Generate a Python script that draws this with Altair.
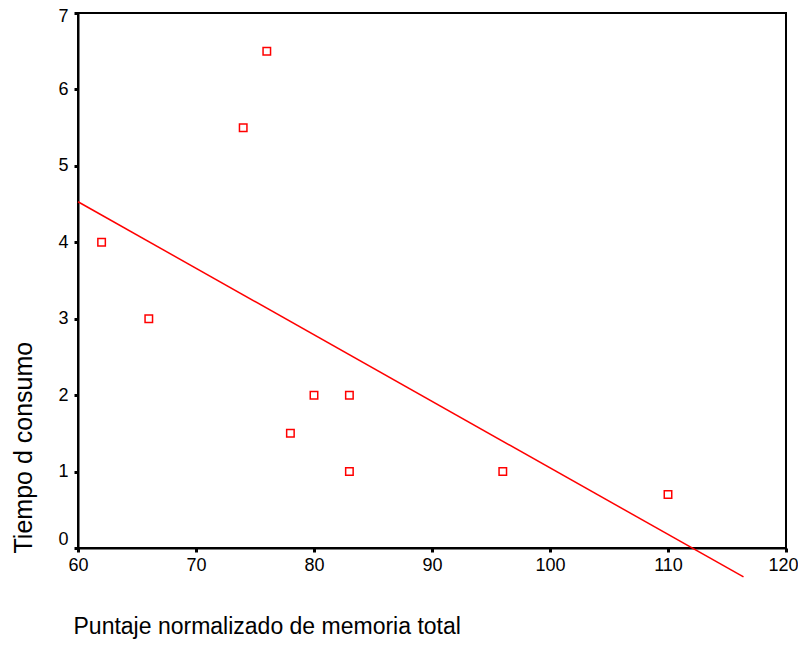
import altair as alt
import pandas as pd

memoria = [62, 66, 74, 76, 78, 80, 83, 83, 96, 110]
tiempo = [4, 3, 5.5, 6.5, 1.5, 2, 2, 1, 1, 0.7]
x_ticks = [60, 70, 80, 90, 100, 110, 120]
y_ticks = [0, 1, 2, 3, 4, 5, 6, 7]
line_extent = [60, 116.4]

df = pd.DataFrame({"x": memoria, "y": tiempo})
FONT = "Liberation Sans"

x_enc = alt.X("x:Q", scale=alt.Scale(domain=[60, 120], nice=False, zero=False),
              axis=alt.Axis(values=x_ticks, format="d", title="Puntaje normalizado de memoria total",
                            grid=False, domainColor="black", domainWidth=2,
                            tickColor="black", tickSize=4, tickWidth=3,
                            labelFont=FONT, labelFontSize=18, labelColor="black",
                            labelPadding=4, labelFlush=False, labelOverlap=False,
                            labelOffset=alt.expr("datum.value == 120 ? -3 : 0"),
                            titleFont=FONT, titleFontSize=23, titleFontWeight="normal",
                            titleColor="black", titleAnchor="start", titleAlign="left",
                            titleX=-5, titleY=67, titleBaseline="top"))
y_enc = alt.Y("y:Q", scale=alt.Scale(domain=[0, 7], nice=False),
              axis=alt.Axis(values=y_ticks, format="d", title="Tiempo d consumo",
                            grid=False, domainColor="black", domainWidth=2,
                            tickColor="black", tickSize=4, tickWidth=3,
                            labelFont=FONT, labelFontSize=18, labelColor="black",
                            labelPadding=6, labelFlush=False, labelOverlap=False,
                            labelBaseline=alt.expr("datum.value == 0 ? 'bottom' : 'middle'"),
                            labelOffset=alt.expr("datum.value == 7 ? 3 : 0"),
                            titleFont=FONT, titleFontSize=25, titleFontWeight="normal",
                            titleColor="black", titleAnchor="start", titleAlign="left",
                            titleX=-47, titleY=540, titleAngle=-90, titleBaseline="alphabetic"))

points = alt.Chart(df).mark_point(shape="square", size=56, color="red",
                                  strokeWidth=1.5, filled=False, opacity=1).encode(x=x_enc, y=y_enc)

line = alt.Chart(df).transform_regression(
    "x", "y", extent=line_extent
).mark_line(color="red", strokeWidth=1.5, clip=False).encode(x="x:Q", y="y:Q")

chart = alt.layer(line, points).properties(
    width=708, height=535,
    autosize=alt.AutoSizeParams(type="none"),
    padding={"left": 70, "top": 5, "right": 12, "bottom": 91},
).configure(background="white").configure_view(stroke="black", strokeWidth=2)

chart.save("out.html", embed_options={"renderer": "svg", "actions": False})
